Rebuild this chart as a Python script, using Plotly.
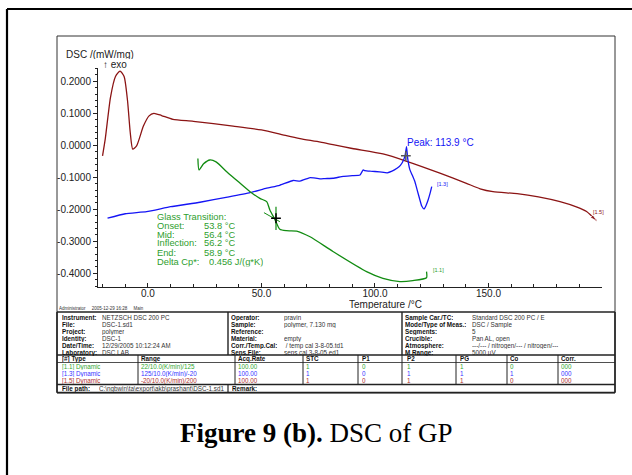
import plotly.graph_objects as go

# ---------------- data ----------------
red_T = [-20, -18.8, -16.5, -14.3, -12.3, -10.5, -9.0, -7.8, -6.7, -5.0, -2.0, 0.5, 2.6, 6, 11, 20, 37.5,
         50, 61, 67, 76, 81.5, 90, 103.5, 114, 128.6, 140, 146.3, 152, 162.6, 172, 181.5, 189, 193.2, 197.6]
red_v = [-0.033, 0.02, 0.15, 0.215, 0.232, 0.215, 0.14, 0.04, -0.012, -0.002, 0.06, 0.092, 0.100, 0.093,
         0.081, 0.075, 0.060, 0.048, 0.030, 0.021, 0.010, 0.002, -0.010, -0.027, -0.050, -0.087, -0.118,
         -0.136, -0.145, -0.151, -0.161, -0.176, -0.193, -0.207, -0.236]

blue_T = [125.0, 124.2, 123.4, 122.5, 121.6, 120.6, 119.8, 118.6, 117.6, 116.4, 115.4, 114.4, 113.9, 113.3,
          112.6, 111.2, 109.7, 107.5, 105.4, 102, 98, 95.5, 94.8, 93.4, 90, 86, 81.6, 78, 75.8, 73,
          71.4, 67, 64, 58, 52.3, 45, 35, 22.9, 10, -0.6, -10, -17.8]
blue_v = [-0.129, -0.152, -0.171, -0.188, -0.199, -0.190, -0.171, -0.140, -0.114, -0.093, -0.077, -0.040,
          -0.004, -0.030, -0.046, -0.063, -0.072, -0.081, -0.086, -0.083, -0.081, -0.079, -0.077, -0.093,
          -0.095, -0.097, -0.103, -0.104, -0.105, -0.102, -0.101, -0.112, -0.110, -0.125, -0.134, -0.148,
          -0.162, -0.178, -0.192, -0.2075, -0.214, -0.228]

green_T = [22.0, 22.5, 24.5, 27.3, 30.0, 34.7, 40.0, 45.0, 49.3, 52.3, 53.7, 56.0, 58.1, 61.0, 65.5,
           71.4, 81.5, 96.3, 103.5, 111.0, 116.7, 122.7, 122.7]
green_v = [-0.041, -0.077, -0.058, -0.046, -0.052, -0.0825, -0.115, -0.145, -0.166, -0.176, -0.202, -0.233,
           -0.2625, -0.267, -0.268, -0.286, -0.332, -0.395, -0.416, -0.426, -0.423, -0.414, -0.395]

# glass transition evaluation marks
tan_T = [51.1, 58.1]
tan_v = [-0.2106, -0.2387]
gt_T = [56.4]
gt_v = [-0.228]
peak_T = [113.6]
peak_v = [-0.033]

glass_labels = ["Onset:", "Mid:", "Inflection:", "End:"]
glass_values = ["53.8 °C", "56.4 °C", "56.2 °C", "58.9 °C"]
x_ticks = [0, 50, 100, 150]
x_tick_text = ["0.0", "50.0", "100.0", "150.0"]
y_ticks = [0.2, 0.1, 0.0, -0.1, -0.2, -0.3, -0.4]
y_tick_text = ["0.2000", "0.1000", "0.0000", "-0.1000", "-0.2000", "-0.3000", "-0.4000"]

info_left = [("Instrument:", "NETZSCH DSC 200 PC"), ("File:", "DSC-1.sd1"), ("Project:", "polymer"),
             ("Identity:", "DSC-1"), ("Date/Time:", "12/29/2005 10:12:24 AM"), ("Laboratory:", "DSC LAB")]
info_mid = [("Operator:", "pravin"), ("Sample:", "polymer, 7.130 mg"), ("Reference:", ""),
            ("Material:", "empty"), ("Corr./Temp.Cal:", " / temp cal 3-8-05.td1"), ("Sens.File:", "sens cal 3-8-05.ed1")]
info_right = [("Sample Car./TC:", "Standard DSC 200 PC / E"), ("Mode/Type of Meas.:", "DSC / Sample"),
              ("Segments:", "5"), ("Crucible:", "Pan AL, open"),
              ("Atmosphere:", "---/--- / nitrogen/--- / nitrogen/---"), ("M.Range:", "5000 µV")]
seg_header = ["[#] Type", "Range", "Acq.Rate", "STC", "P1", "P2", "PG", "Co", "Corr."]
seg_rows = [
    ["[1.1] Dynamic", "22/10.0(K/min)/125", "100.00", "1", "0", "1", "1", "0", "000"],
    ["[1.3] Dynamic", "125/10.0(K/min)/-20", "100.00", "1", "0", "1", "1", "1", "000"],
    ["[1.5] Dynamic", "-20/10.0(K/min)/200", "100.00", "1", "0", "1", "1", "0", "000"],
]

# ---------------- styles ----------------
W, H = 632, 475
RED = "#8B1414"
BLUE = "#1515F5"
GREEN = "#128C12"
GTXT = "#2E9E2E"
row_colors = ["#33A833", "#3535FF", "#B03030"]
FONT = "Liberation Sans, Arial, sans-serif"


def px(x):
    return x / W


def py(y):
    return 1 - y / H


fig = go.Figure()
fig.add_trace(go.Scatter(x=red_T, y=red_v, mode="lines+markers", line=dict(color=RED, width=1.3, shape="spline", smoothing=0.6),
                         marker=dict(symbol="arrow", angleref="previous", size=[0] * (len(red_T) - 1) + [7], color=RED),
                         hoverinfo="skip"))
fig.add_trace(go.Scatter(x=blue_T, y=blue_v, mode="lines", line=dict(color=BLUE, width=1.3, shape="spline", smoothing=0.4),
                         hoverinfo="skip"))
fig.add_trace(go.Scatter(x=green_T, y=green_v, mode="lines", line=dict(color=GREEN, width=1.3, shape="spline", smoothing=0.6),
                         hoverinfo="skip"))
fig.add_trace(go.Scatter(x=tan_T, y=tan_v, mode="lines", line=dict(color=GREEN, width=1), hoverinfo="skip"))
fig.add_trace(go.Scatter(x=[gt_T[0], gt_T[0]], y=[gt_v[0] + 0.036, gt_v[0] - 0.037], mode="lines",
                         line=dict(color=GREEN, width=1.2), hoverinfo="skip"))
fig.add_trace(go.Scatter(x=gt_T, y=gt_v, mode="markers", marker=dict(symbol="cross-thin", size=7,
                         line=dict(color="black", width=1.5)), hoverinfo="skip"))
fig.add_trace(go.Scatter(x=peak_T, y=peak_v, mode="markers", marker=dict(symbol="cross-thin", size=7,
                         line=dict(color="#555555", width=1.5)), hoverinfo="skip"))

fig.update_layout(
    width=W, height=H, margin=dict(l=0, r=0, t=0, b=0), showlegend=False,
    paper_bgcolor="white", plot_bgcolor="white",
    font=dict(family=FONT, size=10, color="#222222"),
    xaxis=dict(domain=[px(98), px(602)], range=[-22, 200], showgrid=False, zeroline=False,
               showline=True, linecolor="#222222", linewidth=1, tickvals=x_ticks, ticktext=x_tick_text,
               ticks="inside", ticklen=4, tickcolor="#222222", tickfont=dict(size=10, color="#222222"),
               ticklabelstandoff=-3,
               minor=dict(ticks="inside", dtick=10, tick0=0, ticklen=3, tickcolor="#222222")),
    yaxis=dict(domain=[py(286.7), py(67.7)], range=[-0.442, 0.2425], showgrid=False, zeroline=False,
               showline=True, linecolor="#222222", linewidth=1, tickvals=y_ticks, ticktext=y_tick_text,
               ticks="outside", ticklen=4, tickcolor="#222222", tickfont=dict(size=10, color="#222222"),
               minor=dict(ticks="outside", dtick=0.02, tick0=0, ticklen=2, tickcolor="#222222")),
)

ann = []


def txt(x, y, s, size=10, color="#222222", xanchor="left", family=FONT, h=None):
    d = dict(x=px(x), y=py(y), xref="paper", yref="paper", text=s, showarrow=False,
             xanchor=xanchor, yanchor="middle", font=dict(size=size, color=color, family=family),
             borderpad=0)
    if h is not None:
        d["height"] = h
    ann.append(d)


# axis titles
txt(65, 54, "DSC /(mW/mg)", 10, h=10)
txt(102, 64, "↑ exo", 10, h=10)
txt(385, 304, "Temperature /°C", 10, xanchor="center", h=10)

# peak
txt(406, 142.5, "Peak: 113.9 °C", 10, BLUE)
txt(436, 184, "[1.3]", 5.5, BLUE)
txt(592, 212, "[1.5]", 5.5, RED)
txt(432, 269.5, "[1.1]", 5.5, GTXT)

# glass transition
GS = 9.3
GH = 8.6
txt(156, 217, "Glass Transition:", GS, GTXT, h=GH)
for i, (lab, val) in enumerate(zip(glass_labels, glass_values)):
    yy = 226 + 9 * i
    txt(156, yy, lab, GS, GTXT, h=GH)
    txt(203, yy, val, GS, GTXT, h=GH)
txt(156, 262, "Delta Cp*:", GS, GTXT, h=GH)
txt(208, 262, "0.456 J/(g*K)", GS, GTXT, h=GH)

# info table
TS = 6.3
txt(58, 308.5, "Administrator     2005-12-29 16:28     Main", 4.5, "#333333", h=5)
for i, (l, v) in enumerate(info_left):
    yy = 317 + 7 * i
    txt(61, yy, "<b>" + l + "</b>", TS, "#111111", h=7)
    txt(101, yy, v, TS, "#333333", h=7)
for i, (l, v) in enumerate(info_mid):
    yy = 317 + 7 * i
    txt(230, yy, "<b>" + l + "</b>", TS, "#111111", h=7)
    txt(283, yy, v, TS, "#333333", h=7)
for i, (l, v) in enumerate(info_right):
    yy = 317 + 7 * i
    txt(404, yy, "<b>" + l + "</b>", TS, "#111111", h=7)
    txt(471, yy, v, TS, "#333333", h=7)

col_x = [61, 140, 237, 305, 361, 406, 459, 509, 560]
for cx, hd in zip(col_x, seg_header):
    txt(cx, 358.8, "<b>" + hd + "</b>", TS, "#111111", h=7)
for r, row in enumerate(seg_rows):
    yy = 366.3 + 7.2 * r
    for cx, v in zip(col_x, row):
        txt(cx, yy, v, TS, row_colors[r], h=7)
txt(61, 388.3, "<b>File path:</b>", TS, "#111111", h=7)
txt(98, 388.3, "C:\\ngbwin\\ta\\export\\akb\\prashant\\DSC-1.sd1", TS, "#333333", h=7)
txt(231, 388.3, "<b>Remark:</b>", TS, "#111111", h=7)

# caption
txt(316, 433, "<b>Figure 9 (b).</b> DSC of GP", 27, "black", xanchor="center",
    family="Liberation Serif, Times New Roman, serif")

fig.update_layout(annotations=ann)

shapes = []


def line(x0, y0, x1, y1, w=1.0, c="#222222"):
    shapes.append(dict(type="line", xref="paper", yref="paper", x0=px(x0), y0=py(y0), x1=px(x1), y1=py(y1),
                       line=dict(color=c, width=w)))


# outer frame
line(7, 9, 632, 9, 2.2, "black")
line(7, 9, 7, 475, 2.2, "black")
# inner box
shapes.append(dict(type="rect", xref="paper", yref="paper", x0=px(57), y0=py(393), x1=px(615), y1=py(36),
                   line=dict(color="#333333", width=1)))
# table lines
line(57, 312, 615, 312, 1.6)
line(228, 312, 228, 355, 1.4)
line(402, 312, 402, 355, 1.4)
line(57, 355, 615, 355, 1.4)
line(57, 362.5, 615, 362.5, 0.8)
for cx in [138, 235, 303, 358, 402, 456, 507, 558]:
    line(cx, 355, cx, 384, 1.0)
line(57, 384.5, 615, 384.5, 1.4)
line(228, 384.5, 228, 392.5, 1.2)
line(57, 392.5, 615, 392.5, 1.6)
line(57, 312, 57, 392.5, 1.6)
line(615, 312, 615, 392.5, 1.6)

fig.update_layout(shapes=shapes)
fig.write_html("out.html")
